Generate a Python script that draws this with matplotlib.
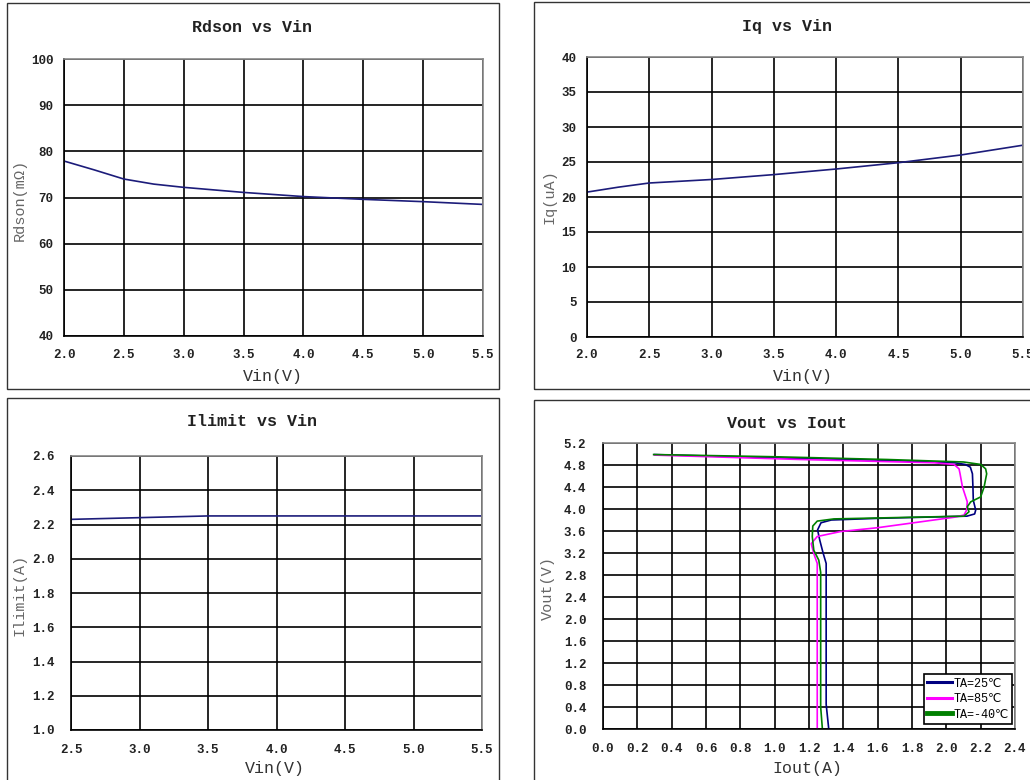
import matplotlib
matplotlib.use('Agg')
import matplotlib.pyplot as plt
from matplotlib.lines import Line2D
from matplotlib.patches import Rectangle

FONT = ['Liberation Mono', 'DejaVu Sans', 'Noto Sans CJK SC']
plt.rcParams['font.family'] = FONT

# ---------------- data ----------------
vin_rdson = [2.0, 2.25, 2.4, 2.5, 2.75, 3.0, 3.5, 4.0, 4.5, 5.0, 5.5]
rdson = [77.9, 76.0, 74.8, 74.0, 72.9, 72.2, 71.1, 70.2, 69.6, 69.1, 68.5]

vin_iq = [2.0, 2.25, 2.5, 3.0, 3.5, 4.0, 4.5, 5.0, 5.5]
iq = [20.7, 21.4, 22.0, 22.5, 23.2, 24.0, 24.9, 26.0, 27.4]

vin_ilim = [2.5, 3.0, 3.5, 4.0, 4.5, 5.0, 5.5]
ilimit = [2.23, 2.24, 2.25, 2.25, 2.25, 2.25, 2.25]

iout_25 = [0.30, 1.00, 1.60, 1.90, 2.05, 2.11, 2.14, 2.152, 2.155, 2.157, 2.171, 2.165,
           2.12, 1.60, 1.33, 1.27, 1.25, 1.263, 1.283, 1.30, 1.30, 1.315]
vout_25 = [4.99, 4.93, 4.89, 4.855, 4.84, 4.81, 4.76, 4.64, 4.40, 4.16, 3.98, 3.91,
           3.87, 3.83, 3.80, 3.75, 3.62, 3.43, 3.19, 3.01, 0.45, 0.0]

iout_85 = [0.30, 1.15, 1.93, 2.045, 2.074, 2.08, 2.094, 2.122, 2.118, 2.103, 2.045,
           1.60, 1.384, 1.248, 1.213, 1.228, 1.248, 1.248]
vout_85 = [4.98, 4.90, 4.84, 4.81, 4.73, 4.64, 4.40, 4.13, 3.98, 3.89, 3.85,
           3.66, 3.59, 3.50, 3.37, 3.19, 3.01, 0.0]

iout_m40 = [0.295, 1.00, 1.656, 2.10, 2.20, 2.229, 2.235, 2.22, 2.20, 2.142, 2.122, 2.132,
            2.103, 1.345, 1.248, 1.222, 1.219, 1.228, 1.257, 1.268, 1.268, 1.278]
vout_m40 = [4.99, 4.95, 4.90, 4.855, 4.81, 4.73, 4.64, 4.40, 4.22, 4.13, 4.04, 3.95,
            3.87, 3.82, 3.78, 3.69, 3.50, 3.25, 3.07, 2.85, 0.40, 0.0]

legend_labels = ['TA=25℃', 'TA=85℃', 'TA=-40℃']

titles = ['Rdson vs Vin', 'Iq vs Vin', 'Ilimit vs Vin', 'Vout vs Iout']
xlabels = ['Vin(V)', 'Vin(V)', 'Vin(V)', 'Iout(A)']
ylabels = ['Rdson(mΩ)', 'Iq(uA)', 'Ilimit(A)', 'Vout(V)']

x_vin = [2.0, 2.5, 3.0, 3.5, 4.0, 4.5, 5.0, 5.5]
y_rdson = [40, 50, 60, 70, 80, 90, 100]
y_iq = [0, 5, 10, 15, 20, 25, 30, 35, 40]
x_ilim = [2.5, 3.0, 3.5, 4.0, 4.5, 5.0, 5.5]
y_ilim = [1.0, 1.2, 1.4, 1.6, 1.8, 2.0, 2.2, 2.4, 2.6]
x_iout = [0.0, 0.2, 0.4, 0.6, 0.8, 1.0, 1.2, 1.4, 1.6, 1.8, 2.0, 2.2, 2.4]
y_vout = [0.0, 0.4, 0.8, 1.2, 1.6, 2.0, 2.4, 2.8, 3.2, 3.6, 4.0, 4.4, 4.8, 5.2]

# ---------------- figure ----------------
W, H = 1030, 780
fig = plt.figure(figsize=(W / 100, H / 100), dpi=100)


def rect(l, t, r, b):
    return [l / W, 1 - b / H, (r - l) / W, (b - t) / H]


# panel frames
for (l, t, r, b) in [(7, 3, 499, 389), (534, 2, 1045, 389),
                     (7, 398, 499, 795), (534, 400, 1045, 795)]:
    fig.patches.append(Rectangle((l / W, 1 - b / H), (r - l) / W, (b - t) / H,
                                 transform=fig.transFigure, fill=False,
                                 edgecolor='#333333', lw=1.0))

NAVY = '#1c1c7a'


def setup(ax, xt, yt, fmt_x, fmt_y, ypad, xpad):
    ax.set_xlim(xt[0], xt[-1])
    ax.set_ylim(yt[0], yt[-1])
    ax.set_xticks(xt)
    ax.set_yticks(yt)
    ax.set_xticklabels([fmt_x.format(v) for v in xt], fontweight='bold', fontsize=9)
    ax.set_yticklabels([fmt_y.format(v) for v in yt], fontweight='bold', fontsize=9)
    ax.tick_params(axis='y', length=0, pad=ypad, colors='#222222')
    ax.tick_params(axis='x', length=0, pad=xpad, colors='#222222')
    ax.grid(True, color='black', lw=1.2)
    ax.set_axisbelow(True)
    for s in ['left', 'bottom']:
        ax.spines[s].set_color('black')
        ax.spines[s].set_linewidth(1.2)
    for s in ['top', 'right']:
        ax.spines[s].set_color('#888888')
        ax.spines[s].set_linewidth(1.2)


ax1 = fig.add_axes(rect(64, 59, 483, 336))
ax1.plot(vin_rdson, rdson, color=NAVY, lw=1.2)
setup(ax1, x_vin, y_rdson, '{:.1f}', '{:d}', 7.5, 9)

ax2 = fig.add_axes(rect(587, 57, 1023, 337))
ax2.plot(vin_iq, iq, color=NAVY, lw=1.2)
setup(ax2, x_vin, y_iq, '{:.1f}', '{:d}', 7.5, 9)

ax3 = fig.add_axes(rect(71, 456, 482, 730))
ax3.plot(vin_ilim, ilimit, color=NAVY, lw=1.2)
setup(ax3, x_ilim, y_ilim, '{:.1f}', '{:.1f}', 12, 10)

ax4 = fig.add_axes(rect(603, 443, 1015, 729))
ax4.plot(iout_25, vout_25, color='#000080', lw=1.2)
ax4.plot(iout_85, vout_85, color='#ff00ff', lw=1.2)
ax4.plot(iout_m40, vout_m40, color='#008000', lw=1.2)
setup(ax4, x_iout, y_vout, '{:.1f}', '{:.1f}', 12, 10)

handles = [Line2D([], [], color='#000080', lw=2.2),
           Line2D([], [], color='#ff00ff', lw=2.2),
           Line2D([], [], color='#008000', lw=3.5)]
leg = ax4.legend(handles, legend_labels, loc='lower right',
                 bbox_to_anchor=(0.993, 0.017), borderaxespad=0,
                 fontsize=8.5, handlelength=2.1, handletextpad=0.1,
                 labelspacing=0.3, borderpad=0.3, fancybox=False,
                 framealpha=1, edgecolor='black')
leg.get_frame().set_linewidth(1.2)

# titles and axis labels (pixel positions)
title_pos = [(252, 28), (787, 27), (252, 422), (787, 424)]
xlabel_pos = [(273, 376), (803, 376), (275, 768), (807, 769)]
ylabel_pos = [(20, 200), (550, 197), (20, 595), (548, 588)]

for t, (x, y) in zip(titles, title_pos):
    fig.text(x / W, 1 - y / H, t, ha='center', va='center', fontsize=12,
             fontweight='bold', color='#222222')
for t, (x, y) in zip(xlabels, xlabel_pos):
    fig.text(x / W, 1 - y / H, t, ha='center', va='center', fontsize=12,
             color='#333333')
for t, (x, y) in zip(ylabels, ylabel_pos):
    fig.text(x / W, 1 - y / H, t, ha='center', va='center', fontsize=11,
             color='#666666', rotation=90)

fig.savefig('out.png', dpi=100)
